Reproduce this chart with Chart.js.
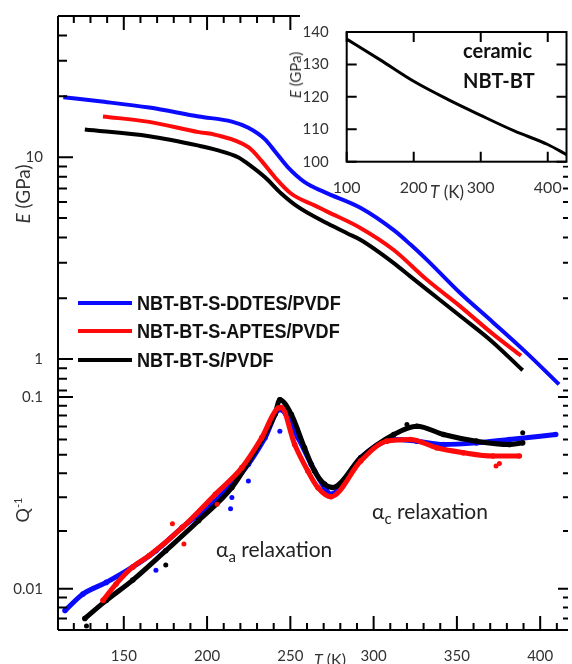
<!DOCTYPE html>
<html>
<head>
<meta charset="utf-8">
<script src="https://cdn.jsdelivr.net/npm/chart.js@4.4.1/dist/chart.umd.min.js"></script>
<style>
  body { margin: 0; background: #fff; }
  #wrap { position: relative; width: 572px; height: 664px; overflow: hidden; font-family: Lato, "Open Sans", sans-serif; color: #333; }
  #main { position: absolute; left: 0; top: 0; }
  #inset { position: absolute; left: 282px; top: 13px; }
  .lbl { position: absolute; white-space: nowrap; }
  .rot { transform: translate(-50%, -50%) rotate(-90deg); }
  .ctr { transform: translate(-50%, -50%); }
  .leg { position: absolute; left: 78px; height: 24px; display: flex; align-items: center; }
  .leg .sw { width: 54px; height: 4px; margin-right: 5px; }
  .leg .lt { font-family: "Liberation Sans", Arial, sans-serif; font-weight: bold; font-size: 21px; color: #111;
             display: inline-block; transform: scaleX(0.86); transform-origin: left center; }
  .relax { font-size: 21px; color: #222; }
  .relax sub { font-size: 15px; }
</style>
</head>
<body>
<div id="wrap">
  <canvas id="main" width="572" height="664"></canvas>
  <canvas id="inset" width="290" height="187"></canvas>

  <div class="lbl rot" style="left:22px; top:194px; font-size:19px;"><i>E</i> (GPa)</div>
  <div class="lbl rot" style="left:22px; top:510px; font-size:18px;">Q<sup style="font-size:11px">-1</sup></div>
  <div class="lbl ctr" style="left:330px; top:658px; font-size:16px;"><i>T</i> (K)</div>

  <div class="lbl rot" style="left:295px; top:75px; font-size:15px;"><i>E</i> (GPa)</div>
  <div class="lbl ctr" style="left:447px; top:191px; font-size:17px;"><i>T</i> (K)</div>
  <div class="lbl" style="left:463px; top:38px; font-size:20px; font-weight:bold; color:#111;">ceramic</div>
  <div class="lbl" style="left:463px; top:68px; font-size:20px; font-weight:bold; color:#111;">NBT-BT</div>

  <div class="leg" style="top:291px"><span class="sw" style="background:#0a0aff"></span><span class="lt">NBT-BT-S-DDTES/PVDF</span></div>
  <div class="leg" style="top:319px"><span class="sw" style="background:#ff0a0a"></span><span class="lt">NBT-BT-S-APTES/PVDF</span></div>
  <div class="leg" style="top:348px"><span class="sw" style="background:#000"></span><span class="lt">NBT-BT-S/PVDF</span></div>

  <div class="lbl relax" style="left:216px; top:536px;">&alpha;<sub>a</sub> relaxation</div>
  <div class="lbl relax" style="left:372px; top:498px;">&alpha;<sub>c</sub> relaxation</div>
</div>

<script>
// Oberes Panel: E (GPa) gegen T (K)
const tE_ddtes = [113.7, 135.5, 165.3, 195, 214.9, 224.8, 234.8, 240.7, 248.6, 258.6, 270.5, 292.3, 312.1, 322, 332, 351.8, 371.7, 391.5, 411.3];
const e_ddtes  = [19.8, 18.9, 17.6, 15.9, 15.0, 13.98, 12.25, 10.7, 8.9, 7.52, 6.71, 5.6, 4.35, 3.7, 3.1, 2.13, 1.52, 1.08, 0.75];

const tE_aptes = [137.5, 165.3, 195, 205, 224.8, 232.7, 240.7, 250.6, 264.5, 272.4, 292.3, 312.1, 332, 351.8, 371.7, 388.5];
const e_aptes  = [15.9, 14.95, 13.3, 12.9, 11.2, 9.59, 7.95, 6.59, 5.77, 5.36, 4.45, 3.47, 2.47, 1.83, 1.33, 1.04];

const tE_s = [126.6, 165.3, 195, 205, 218.9, 224.8, 234.8, 244.7, 254.6, 272.4, 284.3, 292.3, 312.1, 322, 332, 351.8, 371.7, 389.5];
const e_s  = [13.7, 12.7, 11.4, 10.9, 9.97, 9.24, 7.95, 6.59, 5.67, 4.69, 4.19, 3.89, 2.99, 2.57, 2.21, 1.64, 1.21, 0.88];

// Unteres Panel: Q^-1 gegen T (K)
const tQ_ddtes = [114.7, 125.5, 139.5, 155.4, 169.3, 185.2, 205, 224.8, 234.8, 243.7, 254.6, 262.5, 270.5, 274.4, 292.3, 312.1, 326, 341.9, 361.7, 381.5, 409.3];
const q_ddtes  = [0.0077, 0.0094, 0.0108, 0.0130, 0.0158, 0.0209, 0.0287, 0.0446, 0.0612, 0.0859, 0.0612, 0.0446, 0.0337, 0.0311, 0.0482, 0.0600, 0.0588, 0.0565, 0.0576, 0.0600, 0.0637];

const tQ_aptes = [137.5, 145.4, 155.4, 165.3, 185.2, 205, 220.9, 232.8, 242.7, 244.5, 252.6, 260.5, 266.5, 274.4, 292.3, 307.9, 322, 337.9, 353.8, 371.7, 387.5];
const q_aptes  = [0.0087, 0.0106, 0.0130, 0.0149, 0.0209, 0.0311, 0.0428, 0.0612, 0.0875, 0.0880, 0.0565, 0.0411, 0.0337, 0.0302, 0.0464, 0.0588, 0.0600, 0.0543, 0.0512, 0.0492, 0.0492];

const tQ_s = [126.6, 139.5, 155.4, 175.2, 195, 214.9, 228.8, 240.7, 243.7, 250.6, 258.5, 264.5, 270.5, 275.4, 292.3, 312.1, 326, 341.9, 361.7, 381.5, 389.5];
const q_s  = [0.0070, 0.0087, 0.0111, 0.0158, 0.0227, 0.0337, 0.0523, 0.0809, 0.0967, 0.0810, 0.0543, 0.0411, 0.0351, 0.0337, 0.0482, 0.0637, 0.0703, 0.0637, 0.0588, 0.0565, 0.0576];

// Einzelne Streupunkte neben den Bändern
const tOut_ddtes = [169.3, 214.1, 214.9, 224.8, 243.7];
const qOut_ddtes = [0.0125, 0.0261, 0.0299, 0.0365, 0.0662];
const tOut_aptes = [179.2, 186.1, 206, 373.5, 375.5];
const qOut_aptes = [0.0218, 0.0171, 0.0276, 0.0437, 0.0450];
const tOut_s = [127.6, 175.2, 320, 389.5];
const qOut_s = [0.0064, 0.0133, 0.0718, 0.0650];

// Inset: Keramik NBT-BT
const tInset = [100, 150, 200, 250, 300, 350, 400, 428];
const eInset = [137.8, 131.4, 124.8, 119.3, 114.3, 109.5, 105.3, 102.2];

// Achsen-Ticks
const xTicks = [120, 130, 140, 150, 160, 170, 180, 190, 200, 210, 220, 230, 240, 250, 260, 270, 280, 290, 300, 310, 320, 330, 340, 350, 360, 370, 380, 390, 400, 410];
const eTicks = [50, 40, 30, 20, 10, 9, 8, 7, 6, 5, 4, 3, 2, 1, 0.9, 0.8, 0.7];
const qTicks = [0.1, 0.09, 0.08, 0.07, 0.06, 0.05, 0.04, 0.03, 0.02, 0.01, 0.009, 0.008, 0.007];
const insetXTicks = [100, 200, 300, 400];
const insetYTicks = [100, 110, 120, 130, 140];

const BLUE = '#0a0aff', RED = '#ff0a0a', BLACK = '#000';
const xy = (ts, vs) => ts.map((t, i) => ({ x: t, y: vs[i] }));
const isDecade = v => Math.abs(Math.log10(v) - Math.round(Math.log10(v))) < 1e-6;
const tickFont = { family: 'Lato', size: 15 };

function eLine(ts, vs, color) {
    return { data: xy(ts, vs), yAxisID: 'yE', borderColor: color, borderWidth: 4, pointRadius: 0, cubicInterpolationMode: 'monotone' };
}
function qLine(ts, vs, color) {
    return { data: xy(ts, vs), yAxisID: 'yQ', borderColor: color, backgroundColor: color, borderWidth: 5, pointRadius: 2.8, pointBorderWidth: 0, cubicInterpolationMode: 'monotone' };
}
function qDots(ts, vs, color) {
    return { data: xy(ts, vs), yAxisID: 'yQ', showLine: false, backgroundColor: color, borderWidth: 0, pointRadius: 2.5 };
}

// Ticks nach innen, wie im Original
const frame = {
    id: 'frame',
    afterDraw(chart) {
        const { ctx, chartArea: a, scales } = chart;
        ctx.save();
        ctx.strokeStyle = '#000';
        ctx.lineWidth = 2;
        ctx.beginPath();
        ctx.moveTo(a.left, a.top); ctx.lineTo(a.left, a.bottom);
        ctx.moveTo(a.left, a.top); ctx.lineTo(a.right, a.top);
        ctx.moveTo(a.left, a.bottom); ctx.lineTo(a.right, a.bottom);
        scales.x.ticks.forEach(t => {
            const px = scales.x.getPixelForValue(t.value);
            const len = t.value % 50 === 0 ? 14 : 7;
            ctx.moveTo(px, a.bottom); ctx.lineTo(px, a.bottom - len);
            ctx.moveTo(px, a.top); ctx.lineTo(px, a.top + len);
        });
        ['yE', 'yQ'].forEach(id => {
            const s = scales[id];
            s.ticks.forEach(t => {
                const py = s.getPixelForValue(t.value);
                const major = isDecade(t.value);
                ctx.moveTo(a.left, py); ctx.lineTo(a.left + (major ? 15 : 9), py);
                ctx.moveTo(a.right, py); ctx.lineTo(a.right - (major ? 10 : 5), py);
            });
        });
        ctx.stroke();
        ctx.restore();
    }
};

new Chart(document.getElementById('main'), {
    type: 'line',
    data: {
        datasets: [
            eLine(tE_ddtes, e_ddtes, BLUE),
            eLine(tE_aptes, e_aptes, RED),
            eLine(tE_s, e_s, BLACK),
            qDots(tOut_aptes, qOut_aptes, RED),
            qLine(tQ_aptes, q_aptes, RED),
            qDots(tOut_s, qOut_s, BLACK),
            qLine(tQ_s, q_s, BLACK),
            qDots(tOut_ddtes, qOut_ddtes, BLUE),
            qLine(tQ_ddtes, q_ddtes, BLUE),
        ],
    },
    options: {
        responsive: false,
        animation: false,
        layout: { padding: { top: 11, right: 0, left: 0, bottom: 0 } },
        plugins: { legend: { display: false }, tooltip: { enabled: false } },
        scales: {
            x: {
                type: 'linear', min: 110.5, max: 416.7,
                afterFit: s => { s.height = 34; },
                afterBuildTicks: s => { s.ticks = xTicks.map(v => ({ value: v })); },
                grid: { display: false }, border: { display: false },
                ticks: { autoSkip: false, maxRotation: 0, padding: 9, color: '#333', font: tickFont,
                         callback: v => (v % 50 === 0 ? String(v) : '') },
            },
            yQ: {
                type: 'logarithmic', position: 'left', stack: 'panels', stackWeight: 235,
                min: 0.0061, max: 0.1,
                afterFit: s => { s.width = 58; },
                afterBuildTicks: s => { s.ticks = qTicks.map(v => ({ value: v })); },
                grid: { display: false }, border: { display: false },
                ticks: { autoSkip: false, padding: 7, color: '#333', font: tickFont,
                         callback: v => (Math.abs(v - 0.1) < 1e-9 ? '0.1' : Math.abs(v - 0.01) < 1e-9 ? '0.01' : '') },
            },
            yE: {
                type: 'logarithmic', position: 'left', stack: 'panels', stackWeight: 384,
                min: 0.65, max: 50,
                afterFit: s => { s.width = 58; },
                afterBuildTicks: s => { s.ticks = eTicks.map(v => ({ value: v })); },
                grid: { display: false }, border: { display: false },
                ticks: { autoSkip: false, padding: 7, color: '#333', font: tickFont,
                         callback: v => (v === 10 ? '10' : v === 1 ? '1' : '') },
            },
        },
    },
    plugins: [frame],
});

const insetFrame = {
    id: 'insetFrame',
    beforeDraw(chart) {
        const { ctx, chartArea: a } = chart;
        ctx.save();
        ctx.fillStyle = '#fff';
        ctx.fillRect(18, 0, chart.width - 18, a.bottom + 4);
        ctx.restore();
    },
    afterDraw(chart) {
        const { ctx, chartArea: a, scales } = chart;
        ctx.save();
        ctx.strokeStyle = '#000';
        ctx.lineWidth = 2;
        ctx.strokeRect(a.left, a.top, a.right - a.left, a.bottom - a.top);
        ctx.beginPath();
        scales.x.ticks.forEach(t => {
            const px = scales.x.getPixelForValue(t.value);
            ctx.moveTo(px, a.bottom); ctx.lineTo(px, a.bottom - 10);
            ctx.moveTo(px, a.top); ctx.lineTo(px, a.top + 10);
        });
        scales.y.ticks.forEach(t => {
            const py = scales.y.getPixelForValue(t.value);
            ctx.moveTo(a.left, py); ctx.lineTo(a.left + 10, py);
            ctx.moveTo(a.right, py); ctx.lineTo(a.right - 10, py);
        });
        ctx.stroke();
        ctx.restore();
    }
};

new Chart(document.getElementById('inset'), {
    type: 'line',
    data: { datasets: [{ data: xy(tInset, eInset), borderColor: '#000', borderWidth: 3, pointRadius: 0, cubicInterpolationMode: 'monotone' }] },
    options: {
        responsive: false,
        animation: false,
        layout: { padding: { top: 8.7, right: 5.5, left: 0, bottom: 0 } },
        plugins: { legend: { display: false }, tooltip: { enabled: false } },
        scales: {
            x: {
                type: 'linear', min: 100, max: 428,
                afterFit: s => { s.height = 38.3; },
                afterBuildTicks: s => { s.ticks = insetXTicks.map(v => ({ value: v })); },
                grid: { display: false }, border: { display: false },
                ticks: { autoSkip: false, maxRotation: 0, padding: 9, color: '#333', font: { family: 'Lato', size: 16 } },
            },
            y: {
                type: 'linear', min: 100, max: 140,
                afterFit: s => { s.width = 64.7; },
                afterBuildTicks: s => { s.ticks = insetYTicks.map(v => ({ value: v })); },
                grid: { display: false }, border: { display: false },
                ticks: { padding: 10, color: '#333', font: { family: 'Lato', size: 15 } },
            },
        },
    },
    plugins: [insetFrame],
});
</script>
</body>
</html>
